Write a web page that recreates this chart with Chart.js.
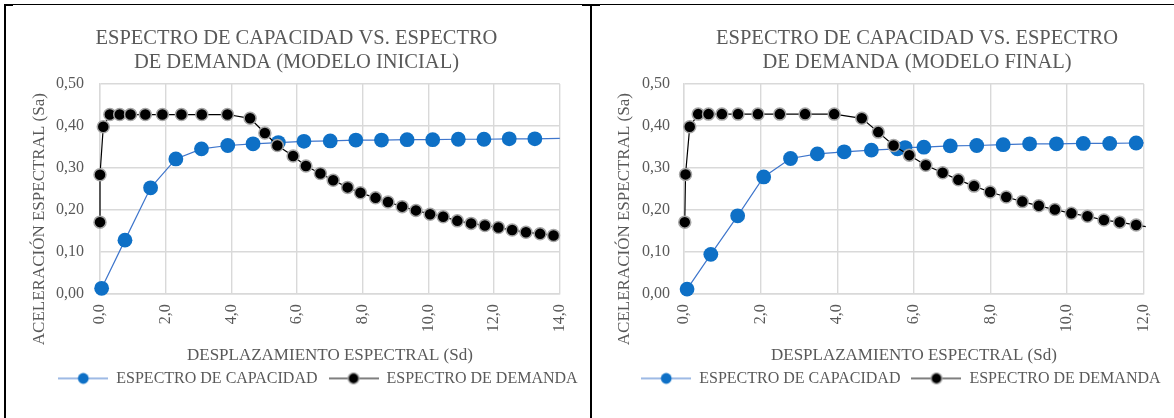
<!DOCTYPE html>
<html lang="es">
<head>
<meta charset="UTF-8">
<title>Espectro de capacidad vs. espectro de demanda</title>
<script src="https://cdn.jsdelivr.net/npm/chart.js"></script>
<style>
    body { margin: 0; background: #fff; overflow: hidden; }
    #page { position: relative; width: 1174px; height: 418px; overflow: hidden; }
    #page canvas { position: absolute; }
    .rule { position: absolute; background: #000; }
</style>
</head>
<body>
<div id="page">
    <canvas id="chartInicial" width="584" height="412" style="left:6px; top:6px;"></canvas>
    <canvas id="chartFinal" width="581" height="412" style="left:593px; top:6px;"></canvas>
    <!-- marco de la tabla -->
    <div class="rule" style="left:4px; top:4px; width:1170px; height:1px;"></div>
    <div class="rule" style="left:4px; top:4px; width:9px; height:2px;"></div>
    <div class="rule" style="left:582px; top:4px; width:18px; height:2px;"></div>
    <div class="rule" style="left:4px; top:4px; width:2px; height:414px;"></div>
    <div class="rule" style="left:590px; top:4px; width:2px; height:414px;"></div>
</div>

<script>
    // ---- datos: modelo inicial ----
    const sdCapInicial = [0.05, 0.76, 1.54, 2.31, 3.09, 3.89, 4.66, 5.43, 6.21, 7.01, 7.79, 8.57, 9.35, 10.13, 10.91, 11.69, 12.46, 13.24, 14.80];
    const saCapInicial = [0.012, 0.127, 0.252, 0.321, 0.345, 0.353, 0.357, 0.360, 0.363, 0.364, 0.366, 0.366, 0.367, 0.367, 0.368, 0.368, 0.369, 0.369, 0.371];
    const sdDemInicial = [0.00, 0.00, 0.10, 0.30, 0.60, 0.93, 1.38, 1.90, 2.48, 3.10, 3.88, 4.57, 5.02, 5.40, 5.88, 6.27, 6.71, 7.10, 7.54, 7.93, 8.39, 8.77, 9.20, 9.62, 10.05, 10.45, 10.88, 11.30, 11.72, 12.13, 12.55, 12.97, 13.40, 13.81];
    const saDemInicial = [0.170, 0.283, 0.398, 0.427, 0.427, 0.427, 0.427, 0.427, 0.427, 0.427, 0.427, 0.418, 0.383, 0.353, 0.328, 0.304, 0.286, 0.270, 0.253, 0.240, 0.228, 0.218, 0.207, 0.198, 0.189, 0.183, 0.173, 0.167, 0.162, 0.157, 0.151, 0.146, 0.142, 0.138];

    // ---- datos: modelo final ----
    const sdCapFinal = [0.08, 0.70, 1.40, 2.08, 2.78, 3.48, 4.18, 4.89, 5.57, 5.77, 6.26, 6.95, 7.64, 8.33, 9.02, 9.72, 10.42, 11.11, 11.80, 12.50];
    const saCapFinal = [0.010, 0.093, 0.185, 0.278, 0.322, 0.333, 0.338, 0.342, 0.345, 0.348, 0.349, 0.352, 0.353, 0.355, 0.357, 0.357, 0.358, 0.358, 0.359, 0.360];
    const sdDemFinal = [0.02, 0.04, 0.15, 0.37, 0.64, 0.99, 1.41, 1.93, 2.50, 3.16, 3.92, 4.64, 5.07, 5.47, 5.88, 6.31, 6.75, 7.16, 7.57, 7.99, 8.41, 8.83, 9.26, 9.68, 10.11, 10.53, 10.96, 11.37, 11.80, 12.22];
    const saDemFinal = [0.170, 0.284, 0.398, 0.428, 0.428, 0.428, 0.428, 0.428, 0.428, 0.428, 0.428, 0.418, 0.385, 0.353, 0.330, 0.306, 0.288, 0.271, 0.256, 0.242, 0.230, 0.219, 0.209, 0.200, 0.191, 0.184, 0.175, 0.170, 0.163, 0.157];

    const seriesNames = ['ESPECTRO DE CAPACIDAD', 'ESPECTRO DE DEMANDA'];
    const yTicks = [0, 0.1, 0.2, 0.3, 0.4, 0.5];

    const textGray = '#595959';
    const gridGray = '#d9d9d9';
    Chart.defaults.font.family = "'Liberation Serif', 'Times New Roman', serif";
    Chart.defaults.color = textGray;

    const toPoints = (xs, ys) => xs.map((x, i) => ({ x: x, y: ys[i] }));

    // marcador de leyenda: linea con punto (estilo Excel)
    function legendMarker(lineColor, fill, ring) {
        const c = document.createElement('canvas');
        c.width = 50; c.height = 16;
        const g = c.getContext('2d');
        g.strokeStyle = lineColor; g.lineWidth = 1.2;
        g.beginPath(); g.moveTo(0, 8); g.lineTo(50, 8); g.stroke();
        g.beginPath(); g.arc(25, 8, 5.4, 0, Math.PI * 2);
        g.fillStyle = fill; g.fill();
        if (ring) { g.lineWidth = 1.4; g.strokeStyle = ring; g.stroke(); }
        return c;
    }
    const markers = [legendMarker('#3f76cc', '#0e70c6'), legendMarker('#000', '#000', '#a6a6a6')];

    // desplaza titulo, leyenda y titulo del eje Y como en el original
    function shiftBoxes(dTitle, dLegend, dYTitle) {
        return {
            id: 'shiftBoxes',
            afterLayout(chart) {
                chart.titleBlock.left += dTitle; chart.titleBlock.right += dTitle;
                chart.legend.left += dLegend; chart.legend.right += dLegend;
                const sc = chart.scales.y;
                if (!sc._titleShifted) {
                    const drawTitle = sc.drawTitle;
                    sc.drawTitle = function () {
                        this.top += dYTitle; this.bottom += dYTitle;
                        drawTitle.call(this);
                        this.top -= dYTitle; this.bottom -= dYTitle;
                    };
                    sc._titleShifted = true;
                }
            }
        };
    }

    function buildChart(id, s) {
        const ctx = document.getElementById(id).getContext('2d');
        return new Chart(ctx, {
            type: 'scatter',
            data: {
                datasets: [{
                    label: seriesNames[0],
                    data: toPoints(s.capX, s.capY),
                    showLine: true,
                    borderColor: '#3f76cc',
                    borderWidth: 1.2,
                    backgroundColor: '#0e70c6',
                    pointBackgroundColor: '#0e70c6',
                    pointBorderWidth: 0,
                    pointRadius: 7.4,
                    clip: { left: 20, top: 20, right: 0, bottom: 20 },
                    order: 1
                }, {
                    label: seriesNames[1],
                    data: toPoints(s.demX, s.demY),
                    showLine: true,
                    borderColor: '#000',
                    borderWidth: 1.2,
                    backgroundColor: '#000',
                    pointBackgroundColor: '#000',
                    pointBorderColor: '#a6a6a6',
                    pointBorderWidth: 1.5,
                    pointRadius: 6,
                    clip: { left: 20, top: 20, right: 2, bottom: 20 },
                    order: 0
                }]
            },
            options: {
                responsive: false,
                animation: false,
                layout: { padding: { left: 0, right: s.padRight, top: 0, bottom: 21.6 } },
                scales: {
                    x: {
                        type: 'linear',
                        min: 0, max: s.xMax,
                        grid: { color: gridGray, lineWidth: 1.4, drawTicks: false },
                        border: { color: gridGray, width: 1.4 },
                        ticks: {
                            stepSize: 2, padding: 11, minRotation: 90, maxRotation: 90,
                            font: { size: 16 }, color: textGray,
                            callback: v => v.toFixed(1).replace('.', ',')
                        },
                        title: {
                            display: true, text: 'DESPLAZAMIENTO ESPECTRAL (Sd)',
                            font: { size: 17, lineHeight: 0.5 }, padding: 0, color: textGray
                        },
                        afterFit: scale => { scale.height = 66.1; }
                    },
                    y: {
                        min: 0, max: 0.5,
                        grid: { color: gridGray, lineWidth: 1.4, drawTicks: false },
                        border: { color: gridGray, width: 1.4 },
                        afterBuildTicks: scale => { scale.ticks = yTicks.map(v => ({ value: v })); },
                        ticks: {
                            padding: s.yTickPad, font: { size: 16 }, color: textGray,
                            callback: v => v.toFixed(2).replace('.', ',')
                        },
                        title: {
                            display: true, text: 'ACELERACIÓN ESPECTRAL (Sa)',
                            font: { size: 17, lineHeight: 1 }, padding: { top: s.yTitlePad, bottom: 0 }, color: textGray
                        },
                        afterFit: scale => { scale.width = s.yWidth; }
                    }
                },
                plugins: {
                    title: {
                        display: true,
                        text: s.title,
                        color: textGray,
                        font: { size: 20.5, weight: 'normal', lineHeight: 1.17 },
                        padding: { top: 20.5, bottom: 9.5 }
                    },
                    legend: {
                        position: 'bottom',
                        labels: {
                            usePointStyle: true,
                            pointStyleWidth: 50,
                            boxHeight: 16,
                            padding: 11,
                            color: textGray,
                            font: { size: 16 },
                            sort: (a, b) => a.datasetIndex - b.datasetIndex,
                            generateLabels: chart => Chart.defaults.plugins.legend.labels.generateLabels(chart)
                                .map(item => Object.assign(item, { pointStyle: markers[item.datasetIndex] }))
                        }
                    },
                    tooltip: { enabled: false }
                }
            },
            plugins: [shiftBoxes(s.titleShift, s.legendShift, 30.5)]
        });
    }

    buildChart('chartInicial', {
        title: ['ESPECTRO DE CAPACIDAD VS. ESPECTRO', 'DE DEMANDA (MODELO INICIAL)'],
        xMax: 14,
        capX: sdCapInicial, capY: saCapInicial,
        demX: sdDemInicial, demY: saDemInicial,
        padRight: 26.7, yWidth: 94, yTitlePad: 25.5, yTickPad: 16,
        titleShift: 11.8, legendShift: 33.3
    });

    buildChart('chartFinal', {
        title: ['ESPECTRO DE CAPACIDAD VS. ESPECTRO', 'DE DEMANDA (MODELO FINAL)'],
        xMax: 12,
        capX: sdCapFinal, capY: saCapFinal,
        demX: sdDemFinal, demY: saDemFinal,
        padRight: 19, yWidth: 91, yTitlePad: 22.9, yTickPad: 14,
        titleShift: 43, legendShift: 26.9
    });
</script>
</body>
</html>
